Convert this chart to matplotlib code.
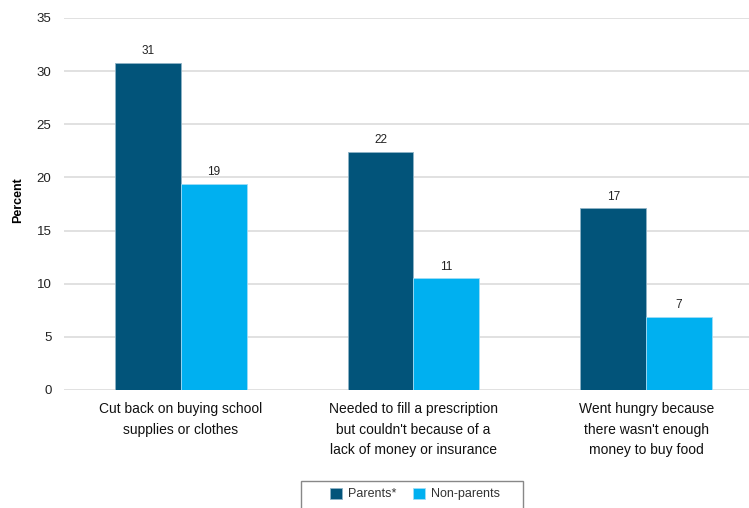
import matplotlib
matplotlib.use('Agg')
import matplotlib.pyplot as plt
from matplotlib.patches import Rectangle
import numpy as np

plt.rcParams['font.family'] = ['Liberation Sans Narrow', 'Liberation Sans', 'DejaVu Sans']

categories = [
    "Cut back on buying school\nsupplies or clothes",
    "Needed to fill a prescription\nbut couldn't because of a\nlack of money or insurance",
    "Went hungry because\nthere wasn't enough\nmoney to buy food",
]
series_names = ["Parents*", "Non-parents"]
parents = [30.8, 22.4, 17.1]
non_parents = [19.4, 10.5, 6.9]
parents_lbl = ["31", "22", "17"]
non_parents_lbl = ["19", "11", "7"]

col_par = '#02547a'
col_non = '#00b0f0'

W, H = 749, 508


def main():
    fig = plt.figure(figsize=(W / 100, H / 100), dpi=100)
    ax = fig.add_axes([64 / W, 1 - 390 / H, 1 - 64 / W, 372 / H])

    x = np.arange(len(categories))
    w = 0.283
    b1 = ax.bar(x - w / 2, parents, w, color=col_par, edgecolor='#8fb3c6',
                linewidth=0.6, label=series_names[0], zorder=3)
    b2 = ax.bar(x + w / 2, non_parents, w, color=col_non, edgecolor='#9fdcf5',
                linewidth=0.6, label=series_names[1], zorder=3)
    for bars, lbls in ((b1, parents_lbl), (b2, non_parents_lbl)):
        for r, t in zip(bars, lbls):
            ax.annotate(t, (r.get_x() + r.get_width() / 2, r.get_height()),
                        xytext=(0, 4), textcoords='offset points',
                        ha='center', va='bottom', fontsize=8.5, color='#222222')

    ax.set_ylim(0, 35)
    ax.set_yticks(range(0, 36, 5))
    ax.set_xlim(-0.502, 2.442)
    ax.set_xticks(x)
    ax.set_xticklabels(categories, fontsize=10, linespacing=1.55,
                       color='#111111')
    ax.tick_params(axis='x', length=0, pad=9)
    ax.tick_params(axis='y', length=0, pad=9, labelsize=9.5,
                   labelcolor='#222222')
    ax.yaxis.grid(True, color='#dcdcdc', lw=1.2, zorder=0)
    for s in ax.spines.values():
        s.set_visible(False)
    ax.set_ylabel("Percent", fontsize=9, fontweight='bold')
    ax.yaxis.set_label_coords((24 - 64) / (W - 64), (390 - 200) / 372)

    # legend box (bottom edge runs off the figure)
    fig.patches.append(Rectangle((301 / W, -0.05), 222 / W, 0.05 + 1 - 481 / H,
                                 transform=fig.transFigure, fill=False,
                                 edgecolor='#888888', lw=1.0))
    fig.legend(handles=[b1, b2], loc='upper center',
               bbox_to_anchor=(415 / W, 1 - 485 / H), ncol=2,
               frameon=False, fontsize=9, handlelength=0.95,
               handleheight=1.0, handletextpad=0.45, columnspacing=1.4,
               borderpad=0.2, borderaxespad=0, labelcolor='#333333')

    fig.savefig('out.png', dpi=100)


if __name__ == '__main__':
    main()
